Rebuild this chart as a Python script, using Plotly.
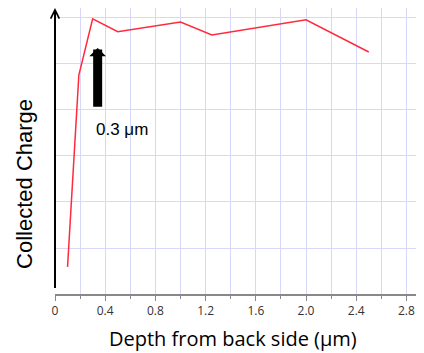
import plotly.graph_objects as go

depth = [0.1, 0.19, 0.3, 0.5, 1.0, 1.25, 2.0, 2.5]
charge = [0.59, 4.76, 5.98, 5.70, 5.91, 5.63, 5.96, 5.26]
x_ticks = [0, 0.4, 0.8, 1.2, 1.6, 2.0, 2.4, 2.8]
x_tick_labels = ["0", "0.4", "0.8", "1.2", "1.6", "2.0", "2.4", "2.8"]
marker_depth = 0.3
marker_label = "0.3 μm"
x_title = "Depth from back side (μm)"
y_title = "Collected Charge"

X_MAX = 2.94
Y_MAX = 6.217
grid = "rgba(215,215,250,1)"

fig = go.Figure()
fig.add_trace(go.Scatter(x=depth, y=charge, mode="lines",
                         line=dict(color="#FF2A3C", width=1.5),
                         showlegend=False, hoverinfo="skip"))

# y axis drawn as an arrow
fig.add_annotation(x=0, y=Y_MAX, ax=0, ay=0.1, xref="x", yref="y", axref="x", ayref="y",
                   text="", showarrow=True, arrowhead=5, arrowwidth=2, arrowsize=0.85,
                   arrowcolor="black")
# marker arrow
fig.add_annotation(x=marker_depth + 0.04, y=5.35, ax=marker_depth + 0.04, ay=4.04,
                   xref="x", yref="y", axref="x", ayref="y",
                   text="", showarrow=True, arrowhead=1, arrowwidth=9, arrowsize=0.31,
                   arrowcolor="black")
fig.add_annotation(x=marker_depth + 0.01, y=3.57, xref="x", yref="y", text=marker_label,
                   showarrow=False, xanchor="left", yanchor="middle",
                   font=dict(family="Liberation Sans, Arial", size=17, color="black"))
# axis titles
fig.add_annotation(x=0.4837, y=-0.157, xref="paper", yref="paper", text=x_title,
                   showarrow=False, xanchor="center", yanchor="middle",
                   font=dict(family="Open Sans", size=20, color="black"))
fig.add_annotation(x=-0.0813, y=0.385, xref="paper", yref="paper", text=y_title,
                   showarrow=False, xanchor="center", yanchor="middle", textangle=-90,
                   font=dict(family="Liberation Sans, Arial", size=22, color="black"))

fig.update_layout(
    width=416, height=345,
    margin=dict(l=47, r=0, t=0, b=59, autoexpand=False),
    paper_bgcolor="white", plot_bgcolor="white",
    xaxis=dict(range=[0, X_MAX], tickvals=x_ticks, ticktext=x_tick_labels,
               showgrid=True, gridcolor=grid, gridwidth=1,
               minor=dict(dtick=0.2, showgrid=True, gridcolor=grid, ticks="outside",
                          ticklen=3, tickcolor="#888888"),
               ticks="outside", ticklen=5, tickcolor="#888888",
               showline=True, linecolor="#888888", linewidth=2,
               zeroline=False,
               tickfont=dict(family="Open Sans", size=12, color="#333333")),
    yaxis=dict(range=[0, Y_MAX], dtick=1, showgrid=True, gridcolor=grid, gridwidth=1,
               showticklabels=False, zeroline=False, showline=False, ticks=""),
)

fig.write_html("out.html")
